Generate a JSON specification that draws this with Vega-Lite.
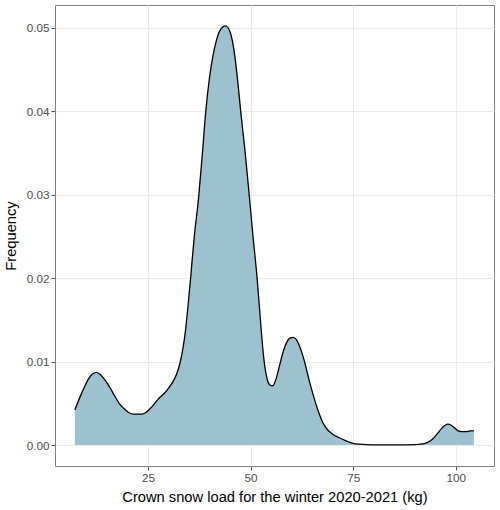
{
  "$schema": "https://vega.github.io/schema/vega-lite/v6.json",
  "width": 439,
  "height": 461,
  "autosize": {"type": "none"},
  "padding": {"left": 55, "top": 5, "right": 6, "bottom": 44},
  "background": "white",
  "config": {
    "font": "Liberation Sans",
    "view": {"stroke": "#808080", "strokeWidth": 1},
    "axis": {
      "domain": false,
      "grid": true,
      "gridColor": "#ebebeb",
      "gridWidth": 1,
      "tickColor": "#555555",
      "tickSize": 4,
      "labelFont": "Liberation Sans",
      "labelFontSize": 11.7,
      "labelColor": "#4d4d4d",
      "labelPadding": 2,
      "titleFont": "Liberation Sans",
      "titleFontSize": 14.7,
      "titleFontWeight": "normal",
      "titleColor": "#000000"
    }
  },
  "data": {
    "values": [
      {"load": 7.2, "density": 0.0042},
      {"load": 8.5, "density": 0.0058},
      {"load": 9.4, "density": 0.0068},
      {"load": 10.5, "density": 0.0079},
      {"load": 11.5, "density": 0.0085},
      {"load": 12.45, "density": 0.0087},
      {"load": 13.5, "density": 0.0084},
      {"load": 14.7, "density": 0.0077},
      {"load": 15.85, "density": 0.0068},
      {"load": 17.0, "density": 0.0058},
      {"load": 18.0, "density": 0.005},
      {"load": 19.1, "density": 0.0044},
      {"load": 20.3, "density": 0.0039},
      {"load": 21.5, "density": 0.0037},
      {"load": 22.5, "density": 0.0037},
      {"load": 23.5, "density": 0.0037},
      {"load": 24.5, "density": 0.0039},
      {"load": 26.0, "density": 0.0046},
      {"load": 27.5, "density": 0.0055},
      {"load": 29.0, "density": 0.0062},
      {"load": 30.0, "density": 0.0068},
      {"load": 31.0, "density": 0.0075},
      {"load": 32.0, "density": 0.0085},
      {"load": 32.8, "density": 0.0098},
      {"load": 33.5, "density": 0.0115},
      {"load": 34.1, "density": 0.0135},
      {"load": 34.7, "density": 0.0163},
      {"load": 35.4, "density": 0.02},
      {"load": 36.3, "density": 0.025},
      {"load": 37.3, "density": 0.0294},
      {"load": 38.2, "density": 0.0345},
      {"load": 39.1, "density": 0.04},
      {"load": 40.0, "density": 0.044},
      {"load": 40.8, "density": 0.0465},
      {"load": 41.7, "density": 0.0485},
      {"load": 42.6, "density": 0.0497},
      {"load": 43.9, "density": 0.0502},
      {"load": 45.0, "density": 0.0495},
      {"load": 46.2, "density": 0.0465},
      {"load": 47.0, "density": 0.043},
      {"load": 47.6, "density": 0.04},
      {"load": 48.7, "density": 0.035},
      {"load": 49.7, "density": 0.0298},
      {"load": 50.6, "density": 0.025},
      {"load": 51.6, "density": 0.02},
      {"load": 52.4, "density": 0.015},
      {"load": 53.2, "density": 0.0105},
      {"load": 54.0, "density": 0.008},
      {"load": 54.7, "density": 0.0072},
      {"load": 55.4, "density": 0.0071},
      {"load": 56.2, "density": 0.0079},
      {"load": 57.0, "density": 0.0094},
      {"load": 57.9, "density": 0.0111},
      {"load": 58.8, "density": 0.0123},
      {"load": 59.6, "density": 0.0128},
      {"load": 60.4, "density": 0.0129},
      {"load": 61.2, "density": 0.0126},
      {"load": 62.2, "density": 0.0115},
      {"load": 63.2, "density": 0.0099},
      {"load": 64.2, "density": 0.0079},
      {"load": 65.2, "density": 0.0061},
      {"load": 66.4, "density": 0.0042},
      {"load": 67.6, "density": 0.0027},
      {"load": 68.8, "density": 0.0018},
      {"load": 70.0, "density": 0.0013},
      {"load": 71.5, "density": 0.0009},
      {"load": 73.3, "density": 0.0005},
      {"load": 75.0, "density": 0.0002},
      {"load": 76.5, "density": 0.0001},
      {"load": 80.0, "density": 0.00002},
      {"load": 85.0, "density": 0.00001},
      {"load": 90.0, "density": 0.00005},
      {"load": 91.5, "density": 0.0001},
      {"load": 93.0, "density": 0.0003},
      {"load": 94.3, "density": 0.0007},
      {"load": 95.4, "density": 0.0013},
      {"load": 96.4, "density": 0.0019},
      {"load": 97.2, "density": 0.0023},
      {"load": 98.0, "density": 0.0025},
      {"load": 98.8, "density": 0.0024},
      {"load": 99.8, "density": 0.002},
      {"load": 100.6, "density": 0.0017},
      {"load": 101.5, "density": 0.0016},
      {"load": 102.5, "density": 0.0016},
      {"load": 103.5, "density": 0.0017},
      {"load": 104.4, "density": 0.0017}
    ]
  },
  "mark": {
    "type": "area",
    "color": "#9dc1ce",
    "opacity": 1,
    "interpolate": "monotone",
    "clip": true,
    "line": {"color": "black", "strokeWidth": 1.3}
  },
  "encoding": {
    "x": {
      "field": "load",
      "type": "quantitative",
      "scale": {"domain": [2.37, 109.3], "nice": false, "zero": false},
      "axis": {"values": [25, 50, 75, 100], "title": "Crown snow load for the winter 2020-2021 (kg)", "titlePadding": 6}
    },
    "y": {
      "field": "density",
      "type": "quantitative",
      "scale": {"domain": [-0.00251, 0.05271], "nice": false, "zero": false},
      "axis": {"values": [0, 0.01, 0.02, 0.03, 0.04, 0.05], "format": ".2f", "title": "Frequency", "titlePadding": 8}
    },
    "y2": {"datum": 0}
  }
}
